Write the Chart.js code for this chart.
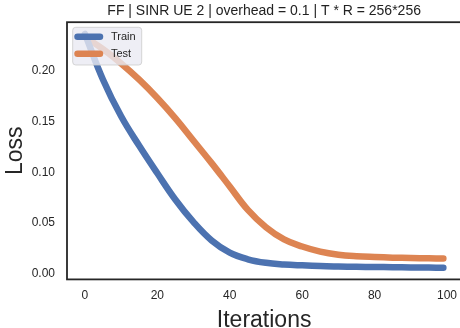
<!DOCTYPE html>
<html>
<head>
<meta charset="utf-8">
<script src="https://cdn.jsdelivr.net/npm/chart.js@4/dist/chart.umd.min.js"></script>
<style>
  html, body { margin: 0; padding: 0; background: #fff; overflow: hidden; width: 460px; height: 328px; }
  #wrap { position: absolute; left: 0; top: 0; width: 466px; height: 337px; }
</style>
</head>
<body>
<div id="wrap"><canvas id="c" width="466" height="337"></canvas></div>
<script>
const chartTitle = 'FF | SINR UE 2 | overhead = 0.1 | T * R = 256*256';
const iterations = [0, 5, 10, 15, 20, 25, 30, 35, 40, 45, 50, 55, 60, 65, 70, 75, 80, 85, 90, 95, 99];
const trainLoss = [0.236, 0.191, 0.155, 0.126, 0.099, 0.073, 0.051, 0.033, 0.021, 0.0145, 0.011, 0.0094, 0.0085, 0.0078, 0.0074, 0.0071, 0.0069, 0.0067, 0.0065, 0.0063, 0.0062];
const testLoss = [0.233, 0.221, 0.207, 0.191, 0.173, 0.153, 0.131, 0.109, 0.086, 0.063, 0.046, 0.034, 0.027, 0.022, 0.019, 0.0175, 0.0167, 0.0161, 0.0157, 0.0154, 0.0152];
const seriesNames = ['Train', 'Test'];
const seriesColors = ['#4c72b0', '#dd8452'];
const xTicks = [0, 20, 40, 60, 80, 100];
const yTicks = [0.00, 0.05, 0.10, 0.15, 0.20];

const FONT = "'Liberation Sans', Arial, sans-serif";
const TXT = '#262626';
const H = 337;

function pts(ys) { return iterations.map((x, i) => ({ x: x, y: ys[i] })); }

const framePlugin = {
  id: 'frame',
  afterLayout(chart) {
    const t = chart.titleBlock;
    if (t) { t.left = chart.chartArea.left; t.right = chart.chartArea.right; }
  },
  afterDatasetsDraw(chart) {
    const { ctx, chartArea: a } = chart;
    ctx.save();
    // legend
    const lx = 72.7, ly = 27.3, lw = 69, lh = 37.7, r = 3;
    ctx.beginPath();
    ctx.moveTo(lx + r, ly);
    ctx.arcTo(lx + lw, ly, lx + lw, ly + lh, r);
    ctx.arcTo(lx + lw, ly + lh, lx, ly + lh, r);
    ctx.arcTo(lx, ly + lh, lx, ly, r);
    ctx.arcTo(lx, ly, lx + lw, ly, r);
    ctx.closePath();
    ctx.fillStyle = 'rgba(234,234,242,0.8)';
    ctx.fill();
    ctx.lineWidth = 1;
    ctx.strokeStyle = 'rgba(204,204,204,0.8)';
    ctx.stroke();
    chart.data.datasets.forEach((ds, i) => {
      const y = 36.7 + i * 17;
      ctx.beginPath();
      ctx.moveTo(77.5, y);
      ctx.lineTo(100, y);
      ctx.strokeStyle = ds.borderColor;
      ctx.lineWidth = 6.5;
      ctx.lineCap = 'round';
      ctx.stroke();
      ctx.fillStyle = TXT;
      ctx.font = '11px ' + FONT;
      ctx.textBaseline = 'middle';
      ctx.textAlign = 'left';
      ctx.fillText(ds.label, 111, y);
    });
    // frame
    ctx.lineWidth = 1.8;
    ctx.strokeStyle = '#262626';
    ctx.lineCap = 'butt';
    ctx.strokeRect(a.left, a.top, a.right - a.left, a.bottom - a.top);
    ctx.restore();
  }
};

new Chart(document.getElementById('c'), {
  type: 'line',
  data: {
    datasets: [
      { label: seriesNames[0], data: pts(trainLoss), borderColor: seriesColors[0], backgroundColor: seriesColors[0] },
      { label: seriesNames[1], data: pts(testLoss), borderColor: seriesColors[1], backgroundColor: seriesColors[1] }
    ]
  },
  options: {
    responsive: false,
    animation: false,
    devicePixelRatio: 1,
    layout: { padding: 0 },
    elements: {
      point: { radius: 0 },
      line: { borderWidth: 6.5, borderCapStyle: 'round', borderJoinStyle: 'round', tension: 0.4, fill: false }
    },
    plugins: {
      legend: { display: false },
      tooltip: { enabled: false },
      title: {
        display: true,
        text: chartTitle,
        color: '#222',
        font: { family: FONT, size: 14, weight: 'normal', lineHeight: 1.2 },
        padding: { top: 3, bottom: 2.4 }
      }
    },
    scales: {
      x: {
        type: 'linear',
        min: -4.95,
        max: 103.95,
        afterFit(s) { s.height = H - 279.4; },
        afterBuildTicks(s) { s.ticks = xTicks.map(v => ({ value: v })); },
        grid: { display: false, drawTicks: false },
        border: { display: false },
        ticks: { color: TXT, font: { family: FONT, size: 12 }, padding: 9, autoSkip: false, maxRotation: 0, includeBounds: false, callback: v => String(v) },
        title: { display: true, text: 'Iterations', color: TXT, font: { family: FONT, size: 23 }, padding: { top: 0, bottom: 2.7 } }
      },
      y: {
        type: 'linear',
        min: -0.0053,
        max: 0.2475,
        afterFit(s) { s.width = 67; },
        afterBuildTicks(s) { s.ticks = yTicks.map(v => ({ value: v })); },
        grid: { display: false, drawTicks: false },
        border: { display: false },
        ticks: { color: TXT, font: { family: FONT, size: 12 }, padding: 12, autoSkip: false, includeBounds: false, callback: v => Number(v).toFixed(2) },
        title: { display: true, text: 'Loss', color: TXT, font: { family: FONT, size: 23 }, padding: { top: 1.7, bottom: 0 } }
      }
    }
  },
  plugins: [framePlugin]
});
</script>
</body>
</html>
